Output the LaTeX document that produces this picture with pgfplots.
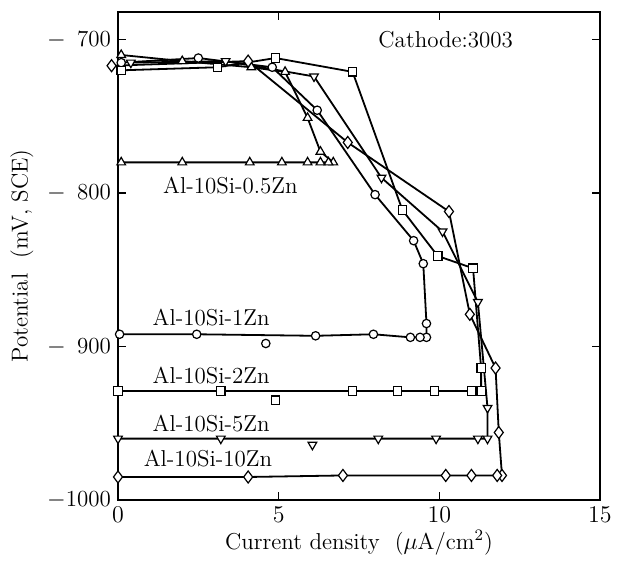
\documentclass[border=0pt]{standalone}
\usepackage{pgfplots}
\pgfplotsset{compat=1.18}

\begin{document}
\begin{tikzpicture}
\begin{axis}[
  scale only axis, width=241pt, height=244pt,
  xmin=0, xmax=15, ymin=-1000, ymax=-682,
  xtick={0,5,10,15}, ytick={-1000,-900,-800,-700},
  yticklabels={{$-$1000},{$-$\phantom{0}900},{$-$\phantom{0}800},{$-$\phantom{0}700}},
  xlabel={Current density\ \ ($\mu$A/cm$^2$)},
  ylabel={Potential\ \ (mV, SCE)},
  tick label style={font=\fontsize{11.5}{13}\selectfont},
  label style={font=\fontsize{11.5}{13}\selectfont},
  xlabel style={yshift=3pt},
  axis line style={line width=0.8pt},
  major tick length=4pt,
  tick style={line width=0.8pt, black},
  clip=false,
  every axis plot/.append style={black, line width=0.9pt, mark size=2.1pt,
    mark options={fill=white, solid, line width=0.6pt}},
]
% Al-10Si-0.5Zn
\addplot[mark=triangle*, mark size=2.5pt] coordinates {
(0.1,-710) (2.0,-714) (4.15,-718) (5.2,-721) (5.9,-751) (6.3,-773) (6.7,-780)
(6.55,-780) (6.3,-780) (5.9,-780) (5.1,-780) (4.1,-780) (2.0,-780) (0.1,-780)
};
% Al-10Si-1Zn
\addplot[mark=*] coordinates {
(0.1,-715) (2.5,-712) (4.8,-718) (6.2,-746) (8.0,-801) (9.2,-831) (9.5,-846)
(9.6,-885) (9.6,-894) (9.4,-894) (9.1,-894) (7.95,-892) (6.15,-893) (2.45,-892) (0.05,-892)
};
\addplot[only marks, mark=*] coordinates {(4.6,-898)};
% Al-10Si-2Zn
\addplot[mark=square*] coordinates {
(0.1,-720) (3.1,-718) (4.9,-712) (7.3,-721) (8.85,-811) (9.95,-841) (11.05,-849)
(11.3,-914) (11.3,-929) (11.0,-929) (9.85,-929) (8.7,-929) (7.3,-929) (3.2,-929) (0,-929)
};
\addplot[only marks, mark=square*] coordinates {(4.9,-935)};
% Al-10Si-5Zn
\addplot[mark=triangle*, mark size=2.5pt,
  mark options={fill=white, solid, line width=0.6pt, rotate=180}] coordinates {
(0.4,-715) (3.35,-714) (6.1,-724) (8.2,-790) (10.1,-825) (11.2,-871) (11.5,-940)
(11.5,-960) (11.2,-960) (9.9,-960) (8.1,-960) (3.2,-960) (0,-960)
};
\addplot[only marks, mark=triangle*, mark size=2.5pt,
  mark options={fill=white, solid, line width=0.6pt, rotate=180}] coordinates {(6.05,-964)};
% Al-10Si-10Zn
\addplot[mark=diamond*, mark size=3pt] coordinates {
(-0.2,-717) (4.05,-714) (7.15,-767) (10.3,-812) (10.95,-879) (11.75,-914) (11.85,-956)
(11.95,-984) (11.8,-984) (11.0,-984) (10.2,-984) (7.0,-984) (4.05,-985) (0,-985)
};

\node[font=\fontsize{11.5}{13}\selectfont] at (axis cs:10.2,-700) {Cathode:3003};
\node[font=\fontsize{11.5}{13}\selectfont] at (axis cs:3.5,-795) {Al-10Si-0.5Zn};
\node[font=\fontsize{11.5}{13}\selectfont] at (axis cs:2.9,-881) {Al-10Si-1Zn};
\node[font=\fontsize{11.5}{13}\selectfont] at (axis cs:2.9,-919) {Al-10Si-2Zn};
\node[font=\fontsize{11.5}{13}\selectfont] at (axis cs:2.9,-950) {Al-10Si-5Zn};
\node[font=\fontsize{11.5}{13}\selectfont] at (axis cs:2.8,-973) {Al-10Si-10Zn};
\end{axis}
\path (current axis.south west) ++(-59pt,-27.5pt) rectangle ([shift={(11.5pt,6pt)}]current axis.north east);
\end{tikzpicture}
\end{document}
